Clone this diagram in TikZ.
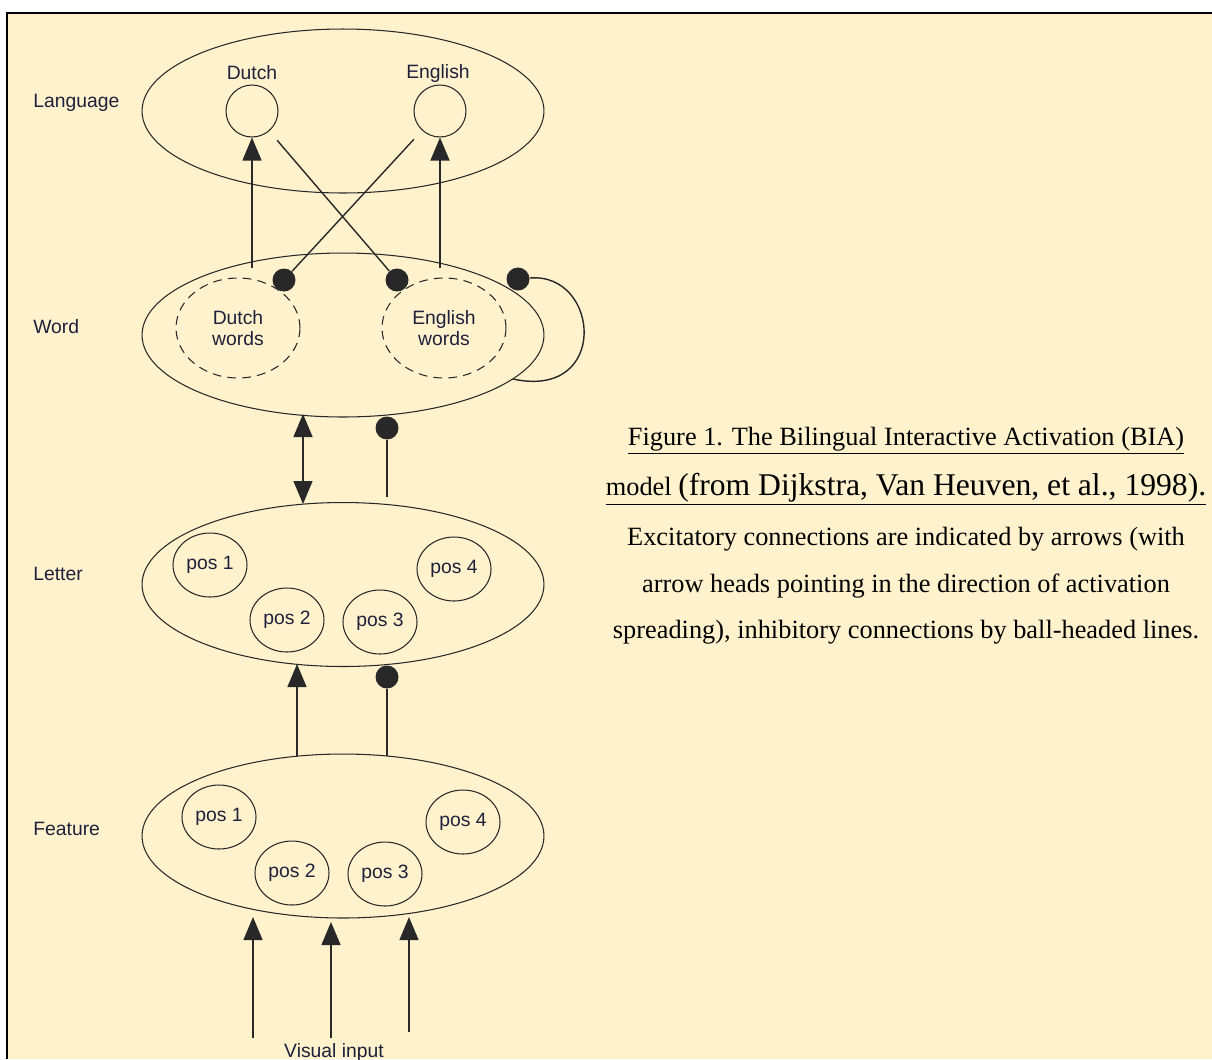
\documentclass[tikz,border=0pt]{standalone}
\usepackage{fontspec}
\setmainfont{Liberation Serif}
\setsansfont{Liberation Sans}
\usetikzlibrary{arrows.meta,shapes.geometric}
\definecolor{bgcream}{RGB}{255,242,204}
\definecolor{linegray}{RGB}{40,40,40}
\definecolor{labtext}{RGB}{30,32,60}
\tikzset{
    diafont/.style={font=\sffamily\fontsize{11}{11.5}\selectfont, text=labtext},
    layer/.style={draw=linegray, line width=0.6pt, ellipse, minimum width=8.04cm, minimum height=3.28cm, inner sep=0pt},
    posunit/.style={draw=linegray, line width=0.6pt, ellipse, minimum width=1.48cm, minimum height=1.28cm, inner sep=0pt, diafont},
    langunit/.style={draw=linegray, line width=0.6pt, circle, minimum size=1.04cm, inner sep=0pt},
    lexicon/.style={draw=linegray, line width=0.6pt, dash pattern=on 5pt off 3.5pt, ellipse, minimum width=2.48cm, minimum height=2cm, inner sep=0pt, align=center, diafont},
    layername/.style={anchor=west, inner sep=0pt, diafont},
    ball/.style={circle, fill=linegray, minimum size=0.46cm, inner sep=0pt},
    excite/.style={draw=linegray, line width=0.8pt, -{Triangle[length=0.46cm,width=0.38cm]}},
    bothway/.style={draw=linegray, line width=0.8pt, {Triangle[length=0.46cm,width=0.38cm]}-{Triangle[length=0.46cm,width=0.38cm]}},
    inhibit/.style={draw=linegray, line width=0.8pt},
    caption/.style={anchor=base, font=\fontsize{15}{17}\selectfont}
}
\begin{document}
\begin{tikzpicture}[x=0.02cm, y=-0.02cm]
    \useasboundingbox (0,0) rectangle (1212,1059);
    \fill[white] (0,0) rectangle (1212,1059);
    \fill[bgcream] (7,13) rectangle (1212,1059);
    \draw[line width=1.7pt] (7,1059) -- (7,13) -- (1212,13);

    \node[layername] (langname) at (33,103) {Language};
    \node[layername] (wordname) at (33,327) {Word};
    \node[layername] (lettername) at (33,574) {Letter};
    \node[layername] (featname) at (33,829) {Feature};

    \node[layer] (language) at (343,111) {};
    \node[layer] (word) at (343,335) {};
    \node[layer] (letter) at (343,584.5) {};
    \node[layer] (feature) at (343,836) {};

    \node[langunit] (dutch) at (252,111) {};
    \node[langunit] (english) at (440,111) {};
    \node[diafont] (dutchname) at (252,73) {Dutch};
    \node[diafont] (englishname) at (438,73) {English};

    \node[lexicon] (dwords) at (238,328) {Dutch\\words};
    \node[lexicon] (ewords) at (444,328) {English\\words};

    \node[posunit] (lp1) at (210,565) {pos 1};
    \node[posunit] (lp2) at (287,620) {pos 2};
    \node[posunit] (lp3) at (380,622) {pos 3};
    \node[posunit] (lp4) at (454,569) {pos 4};

    \node[posunit] (fp1) at (219,817) {pos 1};
    \node[posunit] (fp2) at (292,873) {pos 2};
    \node[posunit] (fp3) at (385,874) {pos 3};
    \node[posunit] (fp4) at (463,822) {pos 4};

    \node[ball] (balld) at (284,280) {};
    \node[ball] (balle) at (397,280) {};
    \node[ball] (ballself) at (518,279) {};
    \node[ball] (ballwl) at (387,428) {};
    \node[ball] (balllf) at (387,677) {};

    \coordinate (wd) at (252,268);
    \coordinate (we) at (440,268);
    \coordinate (wloop) at (513,379);
    \coordinate (wbot) at (303,414);
    \coordinate (ltop) at (303,504);
    \coordinate (ltop2) at (387,497);
    \coordinate (lbot) at (297,664);
    \coordinate (ftop) at (297,756);
    \coordinate (ftop2) at (387,756);
    \coordinate (v1) at (253,1038);
    \coordinate (v2) at (331,1038);
    \coordinate (v3) at (409,1032);
    \coordinate (f1) at (253,917);
    \coordinate (f2) at (331,922);
    \coordinate (f3) at (409,917);

    \draw[excite] (wd) -- (dutch);
    \draw[excite] (we) -- (english);
    \draw[inhibit, shorten <=0.24cm] (dutch) -- (balle);
    \draw[inhibit, shorten <=0.24cm] (english) -- (balld);
    \draw[inhibit] (wloop) .. controls (610,400) and (600,272) .. (ballself);
    \draw[bothway] (wbot) -- (ltop);
    \draw[inhibit] (ltop2) -- (ballwl);
    \draw[excite] (ftop) -- (lbot);
    \draw[inhibit] (ftop2) -- (balllf);
    \draw[excite] (v1) -- (f1);
    \draw[excite] (v2) -- (f2);
    \draw[excite] (v3) -- (f3);
    \node[diafont, anchor=base] (visual) at (334,1057) {Visual input};

    \node[caption] (cap1) at (906,445) {\underline{Figure 1. The Bilingual Interactive Activation (BIA)}};
    \node[caption] (cap2) at (906,495) {\underline{model {\fontsize{18}{20}\selectfont(from Dijkstra, Van Heuven, et al., 1998).}}};
    \node[caption] (cap3) at (906,545) {Excitatory connections are indicated by arrows (with};
    \node[caption] (cap4) at (906,592) {arrow heads pointing in the direction of activation};
    \node[caption] (cap5) at (906,638) {spreading), inhibitory connections by ball-headed lines.};
\end{tikzpicture}
\end{document}
